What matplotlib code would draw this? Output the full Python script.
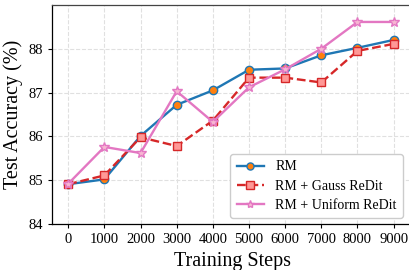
import matplotlib
matplotlib.use("Agg")
import matplotlib.pyplot as plt

steps = [0, 1000, 2000, 3000, 4000, 5000, 6000, 7000, 8000, 9000]
rm = [84.91, 85.02, 86.01, 86.72, 87.05, 87.52, 87.55, 87.85, 88.02, 88.20]
gauss = [84.91, 85.11, 85.98, 85.78, 86.36, 87.34, 87.34, 87.23, 87.95, 88.11]
uniform = [84.92, 85.76, 85.62, 87.03, 86.33, 87.12, 87.53, 88.00, 88.61, 88.61]
yticks = [84, 85, 86, 87, 88]

plt.rcParams['font.family'] = ['Liberation Serif', 'DejaVu Serif']

fig = plt.figure(figsize=(4.09, 2.70), dpi=100)
ax = fig.add_axes([0.127, 0.170, 0.885, 0.812])

ax.plot(steps, rm, color='#1f77b4', lw=1.7, marker='o', ms=6,
        mfc='#ff7f0e', mec='#1f77b4', mew=1.0, label='RM', zorder=3)
ax.plot(steps, gauss, color='#d62728', lw=1.7, ls='--', marker='s', ms=6,
        mfc='#ff9896', mec='#d62728', mew=1.0, label='RM + Gauss ReDit', zorder=4)
ax.plot(steps, uniform, color='#e377c2', lw=1.7, marker='*', ms=7,
        mfc='#f7b6d2', mec='#e377c2', mew=1.0, label='RM + Uniform ReDit', zorder=5)

ax.set_xlim(-450, 9560)
ax.set_ylim(84, 89)
ax.set_xticks(steps)
ax.set_yticks(yticks)
ax.tick_params(labelsize=10.5, length=3, width=0.8)
ax.grid(True, ls='--', color='#e0e0e0', lw=0.8)
ax.set_axisbelow(True)
ax.set_xlabel('Training Steps', fontsize=14.5)
ax.set_ylabel('Test Accuracy (%)', fontsize=14.5)
for s in ax.spines.values():
    s.set_linewidth(0.9)
ax.spines['top'].set_color('#444444')

leg = ax.legend(loc='lower right', bbox_to_anchor=(0.97, 0.027), fontsize=10,
                framealpha=1.0, edgecolor='#cccccc', handlelength=2.0,
                labelspacing=0.45, borderpad=0.45, handletextpad=0.8,
                borderaxespad=0.0, markerscale=0.85)

fig.savefig('out.png', dpi=100)
